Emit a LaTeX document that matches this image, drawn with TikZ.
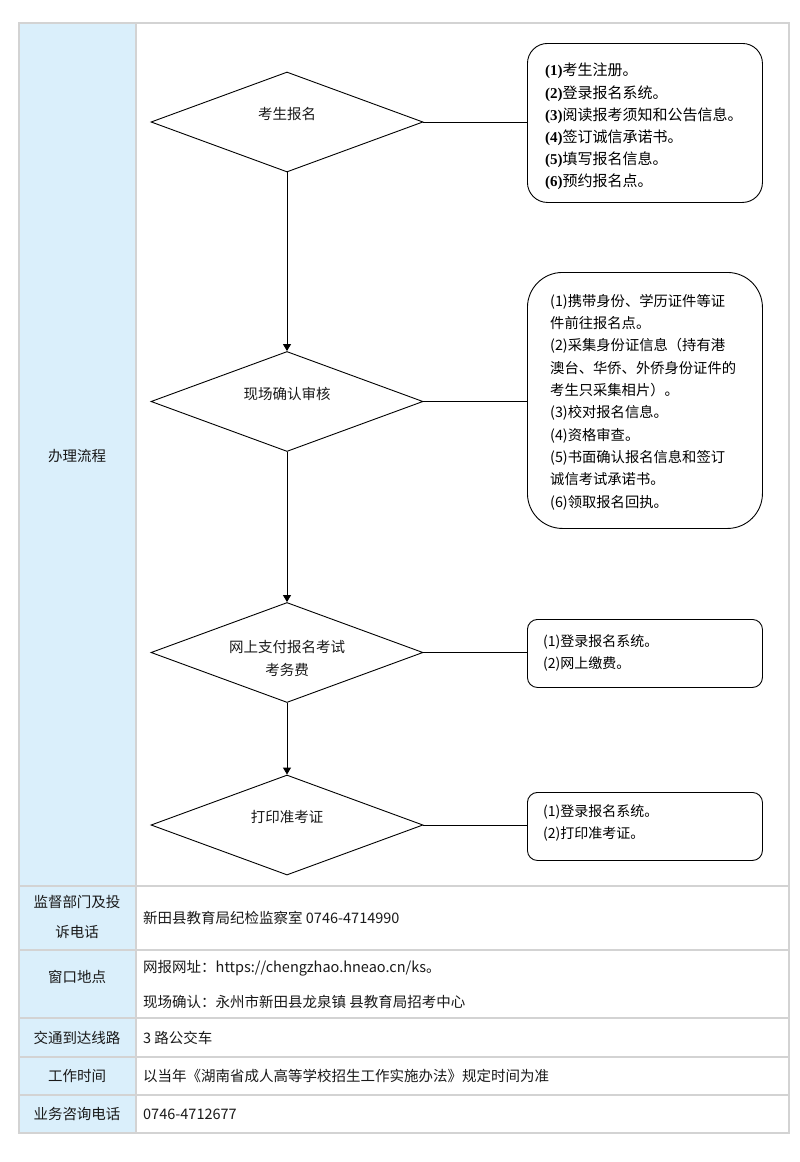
\documentclass[tikz,border=0pt]{standalone}
\usepackage{fontspec}
\usetikzlibrary{shapes.geometric,arrows.meta}
\setmainfont{Liberation Serif}
\newfontfamily\cjk{Noto Sans CJK SC}
\newfontfamily\ser{Liberation Serif}
\definecolor{cellblue}{HTML}{DAEFFB}
\definecolor{gridgray}{HTML}{D3D3D3}
\newcommand{\bnum}[1]{{\ser\bfseries(#1)}}
\begin{document}
\begin{tikzpicture}[x=1pt,y=-1pt,
  dia/.style={draw=black,line width=0.9pt,shape=diamond,aspect=2.74,inner sep=0pt,minimum width=272pt,minimum height=100pt},
  infobox/.style={draw=black,line width=0.9pt,anchor=north west,inner sep=0pt},
  boxtext/.style={anchor=north west,align=left,inner sep=0pt,font=\cjk\fontsize{14}{22.2}\selectfont},
  celltext/.style={font=\cjk\fontsize{14.5}{20}\selectfont,inner sep=0pt,text=black!90},
  flow/.style={line width=0.9pt,-{Triangle[length=7pt,width=8pt]}},
  link/.style={line width=0.9pt}]
\useasboundingbox (0,0) rectangle (800,1162);
% table
\fill[cellblue] (19,23) rectangle (136,1133);
\draw[gridgray,line width=1.5pt] (19,23) rectangle (789,1133);
\draw[gridgray,line width=1.5pt] (136,23) -- (136,1133);
\foreach \yy in {886,950,1018,1057,1095}{\draw[gridgray,line width=1.5pt] (19,\yy) -- (789,\yy);}
% left column labels
\node[celltext] (l1) at (77,456) {办理流程};
\node[celltext,align=center,font=\cjk\fontsize{14.5}{30}\selectfont] (l2) at (77,917) {监督部门及投\\诉电话};
\node[celltext] (l3) at (77,977) {窗口地点};
\node[celltext] (l4) at (77,1038) {交通到达线路};
\node[celltext] (l5) at (77,1076) {工作时间};
\node[celltext] (l6) at (77,1114) {业务咨询电话};
% right column texts
\node[celltext,anchor=west] (r2) at (143,918) {新田县教育局纪检监察室 0746-4714990};
\node[celltext,anchor=west] (r3a) at (143,968) {网报网址：https://chengzhao.hneao.cn/ks。};
\node[celltext,anchor=west] (r3b) at (143,1002) {现场确认：永州市新田县龙泉镇 县教育局招考中心};
\node[celltext,anchor=west] (r4) at (143,1038) {3 路公交车};
\node[celltext,anchor=west] (r5) at (143,1076) {以当年《湖南省成人高等学校招生工作实施办法》规定时间为准};
\node[celltext,anchor=west] (r6) at (143,1114) {0746-4712677};
% diamonds
\node[dia,label={[celltext,yshift=8pt]center:考生报名}] (d1) at (287,122) {};
\node[dia,label={[celltext,yshift=8pt]center:现场确认审核}] (d2) at (287,401.5) {};
\node[dia,label={[celltext,yshift=-6pt,align=center,font=\cjk\fontsize{14.5}{23}\selectfont]center:网上支付报名考试\\考务费}] (d3) at (287,652.5) {};
\node[dia,label={[celltext,yshift=8pt]center:打印准考证}] (d4) at (287,825) {};
\draw[flow] (d1.south) -- (d2.north);
\draw[flow] (d2.south) -- (d3.north);
\draw[flow] (d3.south) -- (d4.north);
% boxes
\node[infobox,rounded corners=20pt,minimum width=235pt,minimum height=159pt] (b1) at (527,43) {};
\node[boxtext,font=\cjk\fontsize{15}{22.2}\selectfont] (t1) at (545,63) {\bnum{1}考生注册。\\\bnum{2}登录报名系统。\\\bnum{3}阅读报考须知和公告信息。\\\bnum{4}签订诚信承诺书。\\\bnum{5}填写报名信息。\\\bnum{6}预约报名点。};
\node[infobox,rounded corners=35pt,minimum width=235pt,minimum height=256pt] (b2) at (527,272) {};
\node[boxtext,font=\cjk\fontsize{14.3}{22.3}\selectfont] (t2) at (550,294) {(1)携带身份、学历证件等证\\件前往报名点。\\(2)采集身份证信息（持有港\\澳台、华侨、外侨身份证件的\\考生只采集相片）。\\(3)校对报名信息。\\(4)资格审查。\\(5)书面确认报名信息和签订\\诚信考试承诺书。\\(6)领取报名回执。};
\node[infobox,rounded corners=10pt,minimum width=235pt,minimum height=68pt] (b3) at (527,619) {};
\node[boxtext] (t3) at (543,634) {(1)登录报名系统。\\(2)网上缴费。};
\node[infobox,rounded corners=10pt,minimum width=235pt,minimum height=68pt] (b4) at (527,792) {};
\node[boxtext] (t4) at (543,804) {(1)登录报名系统。\\(2)打印准考证。};
\draw[link] (d1.east) -- (d1.east -| b1.west);
\draw[link] (d2.east) -- (d2.east -| b2.west);
\draw[link] (d3.east) -- (d3.east -| b3.west);
\draw[link] (d4.east) -- (d4.east -| b4.west);
\end{tikzpicture}
\end{document}
